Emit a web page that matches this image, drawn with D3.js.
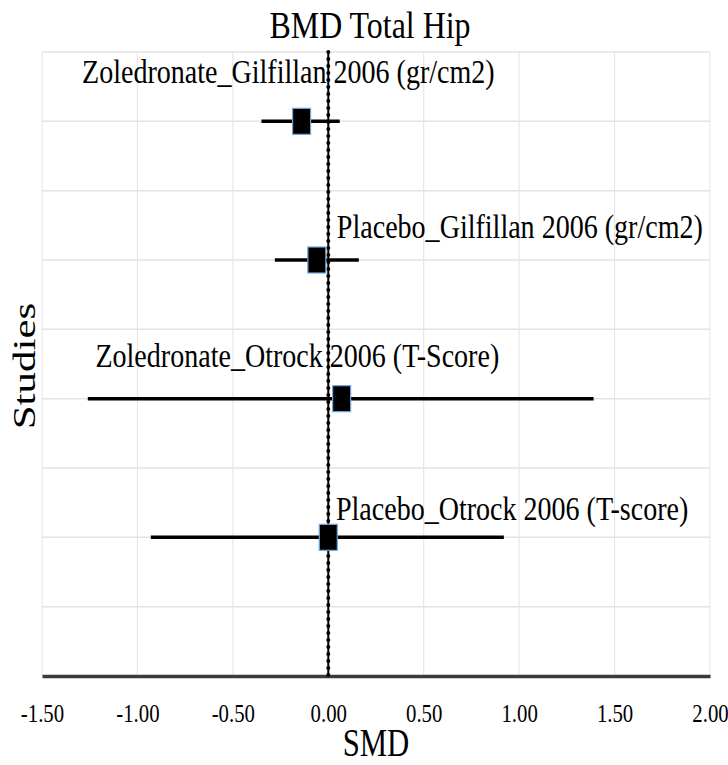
<!DOCTYPE html>
<html>
<head>
<meta charset="utf-8">
<script src="https://cdn.jsdelivr.net/npm/d3@7"></script>
<style>
  body { margin: 0; background: #fff; }
  text { font-family: "Liberation Serif", "Times New Roman", serif; fill: #000; }
</style>
</head>
<body>
<script>
// data
var studies = ["Zoledronate_Gilfillan 2006 (gr/cm2)", "Placebo_Gilfillan 2006 (gr/cm2)",
               "Zoledronate_Otrock 2006 (T-Score)", "Placebo_Otrock 2006 (T-score)"];
var rowPos = [8, 6, 4, 2];
var smd = [-0.14, -0.06, 0.07, 0.00];
var lower = [-0.35, -0.28, -1.26, -0.93];
var upper = [0.06, 0.16, 1.39, 0.92];
// data-label anchors (in data units, like the original's movable labels)
var labelX = [-1.29, 0.045, -1.22, 0.04];
var labelY = [8.56, 6.32, 4.46, 2.25];
var xTicks = [-1.5, -1.0, -0.5, 0.0, 0.5, 1.0, 1.5, 2.0];
var yGrid = [1, 2, 3, 4, 5, 6, 7, 8, 9];

var W = 728, H = 765;
var mLeft = 42, mRight = 710, mTop = 52, mBottom = 676;

var svg = d3.select("body").append("svg")
  .attr("width", W)
  .attr("height", H);

var x = d3.scaleLinear().domain([-1.5, 2.0]).range([mLeft, mRight]);
var y = d3.scaleLinear().domain([0, 9]).range([mBottom, mTop]);

// grid
svg.append("g").selectAll("line").data(xTicks).join("line")
  .attr("x1", d => x(d)).attr("x2", d => x(d))
  .attr("y1", y(9)).attr("y2", y(0))
  .attr("stroke", "#e3e3e3").attr("stroke-width", 1);
svg.append("g").selectAll("line").data(yGrid).join("line")
  .attr("x1", x(-1.5)).attr("x2", x(2.0))
  .attr("y1", d => y(d)).attr("y2", d => y(d))
  .attr("stroke", "#e3e3e3").attr("stroke-width", 1.5);

// x axis
var xAxis = svg.append("g")
  .attr("transform", "translate(0," + y(0) + ")")
  .call(d3.axisBottom(x).tickValues(xTicks).tickSize(0)
    .tickFormat(d => d.toFixed(2)));
xAxis.select(".domain").attr("stroke", "#3a3a3a").attr("stroke-width", 3.5);
xAxis.selectAll(".tick text")
  .attr("y", 0).attr("dy", 0)
  .attr("font-size", 26)
  .attr("transform", "translate(0,46) scale(0.8,1)");

// zero line
svg.append("line")
  .attr("x1", x(0)).attr("x2", x(0)).attr("y1", y(9)).attr("y2", y(0))
  .attr("stroke", "#000").attr("stroke-width", 2);
svg.append("line")
  .attr("x1", x(0)).attr("x2", x(0)).attr("y1", y(9)).attr("y2", y(0))
  .attr("stroke", "#000").attr("stroke-width", 4)
  .attr("stroke-linecap", "round").attr("stroke-dasharray", "0 7");

// confidence intervals
svg.append("g").selectAll("line").data(studies).join("line")
  .attr("x1", (d, i) => x(lower[i])).attr("x2", (d, i) => x(upper[i]))
  .attr("y1", (d, i) => y(rowPos[i])).attr("y2", (d, i) => y(rowPos[i]))
  .attr("stroke", "#000").attr("stroke-width", 3.5);

// point estimates
var bw = 18, bh = 26;
svg.append("g").selectAll("rect").data(studies).join("rect")
  .attr("x", (d, i) => x(smd[i]) - bw / 2)
  .attr("y", (d, i) => y(rowPos[i]) - bh / 2)
  .attr("width", bw).attr("height", bh)
  .attr("fill", "#000")
  .attr("stroke", "#6fa8dc").attr("stroke-width", 1.2);

// study labels
svg.append("g").selectAll("text").data(studies).join("text")
  .attr("font-size", 33)
  .attr("transform", (d, i) => "translate(" + x(labelX[i]) + "," + y(labelY[i]) + ") scale(0.85,1)")
  .text(d => d);

// title
svg.append("text")
  .attr("text-anchor", "middle")
  .attr("font-size", 38)
  .attr("transform", "translate(" + ((mLeft + mRight) / 2 - 6) + ",38) scale(0.84,1)")
  .text("BMD Total Hip");

// axis titles
svg.append("text")
  .attr("text-anchor", "middle")
  .attr("font-size", 41)
  .attr("transform", "translate(" + ((mLeft + mRight) / 2) + ",756) scale(0.75,1)")
  .text("SMD");

svg.append("text")
  .attr("text-anchor", "middle")
  .attr("font-size", 43)
  .attr("transform", "translate(35,366) scale(0.74,1) rotate(-90)")
  .text("Studies");
</script>
</body>
</html>
